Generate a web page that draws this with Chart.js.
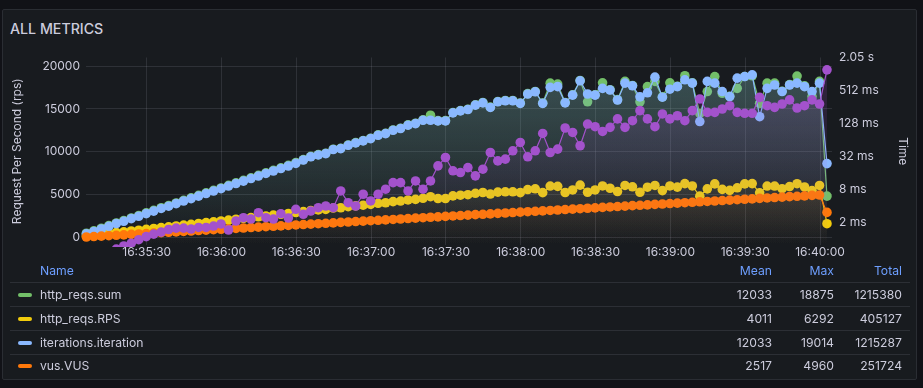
<!DOCTYPE html>
<html><head><meta charset="utf-8">
<script src="https://cdn.jsdelivr.net/npm/chart.js@4.4.1/dist/chart.umd.min.js"></script>
<style>
html,body{margin:0;padding:0;background:#111217;width:923px;height:388px;overflow:hidden;font-family:Inter,"Noto Sans",sans-serif;}
#panel{position:absolute;left:2px;top:9px;width:913px;height:369px;background:#181b1f;border:1px solid #2a2d33;border-radius:2px;}
#title{position:absolute;left:10px;top:20.5px;font-size:14.2px;line-height:15px;font-weight:500;color:#ccccdc;white-space:nowrap;}
#chartWrap{position:absolute;left:0;top:0;width:923px;height:268px;}
.lg{position:absolute;font-size:12.2px;line-height:16px;color:#ccccdc;white-space:nowrap;}
.num{width:120px;text-align:right;}
.hd{color:#6e9fff;}
.sep{position:absolute;left:10px;width:900px;height:1px;background:#2c2f35;}
.sw{position:absolute;left:18px;width:14px;height:4px;border-radius:2px;}
</style></head>
<body>
<div id="panel"></div>
<div id="title">ALL METRICS</div>
<div id="chartWrap"><canvas id="c" width="923" height="268"></canvas></div>
<div id="legend"></div>
<script>
// ---------- data ----------
const firstSampleSec = 5.8;      // seconds after 16:35:00
const sampleStepSec = 3;
const xTickSecs = [30,60,90,120,150,180,210,240,270,300];
const xTickLabels = ['16:35:30','16:36:00','16:36:30','16:37:00','16:37:30','16:38:00','16:38:30','16:39:00','16:39:30','16:40:00'];
const leftTicks = [0,5000,10000,15000,20000];
const rightTicks = [2,8,32,128,512,2048];
const rightTickLabels = ['2 ms','8 ms','32 ms','128 ms','512 ms','2.05 s'];

const httpReqsSum = [500,780,1080,1390,1700,1970,2280,2560,2870,3160,
 3470,3730,4030,4340,4620,4910,5210,5500,5780,6080,
 6380,6660,6960,7250,7550,7840,8130,8420,8730,9080,
 9460,9670,9830,10300,10410,10800,11070,11310,11580,11970,
 12160,12550,12750,13140,13330,13720,14270,13640,13640,14580,
 14810,14970,15480,15750,15210,15870,15990,15990,15690,16780,
 17040,15690,18010,17900,15750,16650,18320,15830,16650,18050,
 17240,16080,18210,17740,15830,17600,18210,16410,18050,17640,
 18870,18050,14470,17030,18780,16830,16480,17400,18780,18870,
 15650,18010,18010,17070,17830,18830,17700,16440,18210,4830];
const httpReqsRPS = [167,260,360,463,567,657,760,853,957,1053,
 1157,1243,1343,1447,1540,1637,1737,1833,1927,2027,
 2127,2220,2320,2417,2517,2613,2710,2807,2910,3027,
 3153,3223,3277,3433,3470,3600,3690,3770,3860,3990,
 4053,4183,4250,4380,4443,4573,4757,4547,4547,4860,
 4937,4990,5160,5250,5070,5290,5330,5330,5230,5593,
 5680,5230,6003,5967,5250,5550,6107,5277,5550,6017,
 5747,5360,6070,5913,5277,5867,6070,5470,6017,5880,
 6290,6017,4823,5677,6260,5610,5493,5800,6260,6290,
 5217,6003,6003,5690,5943,6277,5900,5480,6070,1610];
const iterations = [420,700,1000,1310,1620,1890,2200,2480,2790,3080,
 3390,3650,3950,4260,4540,4830,5130,5420,5700,6000,
 6300,6580,6880,7170,7470,7760,8050,8340,8650,9040,
 9420,9630,9790,10260,10370,10760,11030,11270,11540,11930,
 12120,12510,12710,13100,13290,13680,13680,13600,13600,14540,
 14770,14930,15440,15710,15170,15830,15950,15950,15650,16740,
 17000,15650,17520,17600,15710,16610,18280,16740,16610,17400,
 17200,16040,18010,17700,16410,16880,18710,16370,17300,17600,
 18400,18010,13530,18210,18010,17030,16440,18590,18780,18980,
 14090,17400,17790,17030,17790,18010,17600,17030,18010,8620];
const vus = [60,108,162,210,257,311,360,412,458,510,
 562,608,660,713,758,810,862,908,960,1012,
 1058,1110,1163,1208,1260,1311,1358,1410,1462,1508,
 1560,1612,1658,1710,1763,1808,1860,1911,1958,2010,
 2062,2108,2160,2213,2258,2310,2361,2408,2460,2512,
 2558,2610,2663,2708,2760,2811,2858,2910,2962,3008,
 3060,3112,3158,3210,3263,3308,3360,3411,3458,3510,
 3562,3608,3660,3713,3758,3810,3861,3908,3960,4012,
 4058,4110,4163,4208,4260,4311,4358,4410,4462,4508,
 4560,4612,4658,4710,4763,4808,4860,4911,4960,2930];
// response time (ms), right log axis
const respTime = [0.59,0.59,0.59,0.61,0.64,0.73,0.82,0.95,1.08,1.20,
 1.31,1.46,1.55,1.55,1.49,1.59,1.59,1.69,1.84,1.43,
 2.09,2.40,2.27,2.96,2.40,2.27,2.84,2.37,3.42,2.77,
 3.18,3.66,3.93,3.66,7.41,4.52,3.93,6.45,4.86,6.45,
 7.97,10.5,10.5,7.41,11.3,7.97,11.3,21.3,30.3,17.3,
 16.1,19.8,14.0,18.5,37.4,26.3,28.3,40.2,57.1,31.2,
 40.2,83.5,37.4,43.2,105,87.1,49.7,124,111,90.9,
 108,154,108,143,218,154,111,190,154,176,
 143,218,357,203,203,234,269,203,195,195,
 382,269,251,289,343,244,269,343,289,1218];

const legendNames = ['http_reqs.sum','http_reqs.RPS','iterations.iteration','vus.VUS'];
const legendMean = ['12033','4011','12033','2517'];
const legendMax = ['18875','6292','19014','4960'];
const legendTotal = ['1215380','405127','1215287','251724'];

// ---------- style ----------
const COLORS = {sum:'#73BF69', rps:'#F2CC0C', iter:'#8AB8FF', vus:'#FF780A', time:'#A352CC'};
const legendColors = [COLORS.sum, COLORS.rps, COLORS.iter, COLORS.vus];
const TEXT = '#ccccdc';
const GRID = 'rgba(204,204,220,0.13)';
const FONT = 'Inter, "Noto Sans", sans-serif';

const times = iterations.map((_, i) => firstSampleSec + i * sampleStepSec);

function hexA(hex, a) {
  const n = parseInt(hex.slice(1), 16);
  return `rgba(${(n>>16)&255},${(n>>8)&255},${n&255},${a})`;
}
function fillGrad(hex, alpha) {
  return (c) => {
    const a = c.chart.chartArea;
    if (!a) return 'rgba(0,0,0,0)';
    const g = c.chart.ctx.createLinearGradient(0, a.top, 0, a.bottom);
    g.addColorStop(0, hexA(hex, alpha));
    g.addColorStop(1, hexA(hex, 0));
    return g;
  };
}
function ds(label, values, color, axis, order) {
  return {
    label, yAxisID: axis, order,
    data: values.map((v, i) => ({x: times[i], y: v})),
    borderColor: color, borderWidth: 1.2, tension: 0,
    pointRadius: 4.8, pointHoverRadius: 4.8, pointBorderWidth: 0,
    pointBackgroundColor: color,
    fill: 'start', backgroundColor: fillGrad(color, 0.2),
    clip: {left: 8, top: 8, right: 8, bottom: 2}
  };
}

new Chart(document.getElementById('c'), {
  type: 'line',
  data: {datasets: [
    ds('http_reqs.sum', httpReqsSum, COLORS.sum, 'y', 4),
    ds('http_reqs.RPS', httpReqsRPS, COLORS.rps, 'y', 3),
    ds('iterations.iteration', iterations, COLORS.iter, 'y', 2),
    ds('vus.VUS', vus, COLORS.vus, 'y', 1),
    ds('http_req_duration', respTime, COLORS.time, 'y1', 0)
  ]},
  options: {
    responsive: false, animation: false, devicePixelRatio: 1,
    layout: {padding: {top: 57.5, left: 0, right: 0, bottom: 0}},
    plugins: {legend: {display: false}, tooltip: {enabled: false}},
    scales: {
      x: {
        type: 'linear', min: 5.65, max: 304.81,
        afterBuildTicks: s => { s.ticks = xTickSecs.map(v => ({value: v})); },
        afterFit: s => { s.height = 23; },
        ticks: {color: TEXT, font: {family: FONT, size: 12}, padding: 0, maxRotation: 0,
                autoSkip: false, callback: (v, i) => xTickLabels[i]},
        grid: {color: GRID, drawTicks: false, lineWidth: 1},
        border: {display: false}
      },
      y: {
        position: 'left', type: 'linear', min: -875, max: 21000,
        afterBuildTicks: s => { s.ticks = leftTicks.map(v => ({value: v})); },
        afterFit: s => { s.width = 86; },
        ticks: {color: TEXT, font: {family: FONT, size: 12}, padding: 6, callback: v => String(v)},
        grid: {color: GRID, drawTicks: false, lineWidth: 1},
        border: {display: false},
        title: {display: true, text: 'Request Per Second (rps)', color: TEXT,
                font: {family: FONT, size: 12}, padding: {top: 9.8, bottom: 0}}
      },
      y1: {
        position: 'right', type: 'logarithmic', min: 0.76, max: 2048,
        afterBuildTicks: s => { s.ticks = rightTicks.map(v => ({value: v})); },
        afterFit: s => { s.width = 91; },
        ticks: {color: TEXT, font: {family: FONT, size: 12}, padding: 7,
                callback: (v, i) => rightTickLabels[i]},
        grid: {display: false, drawTicks: false},
        border: {display: false},
        title: {display: true, text: 'Time', color: TEXT,
                font: {family: FONT, size: 12}, padding: {top: 12.8, bottom: 0}}
      }
    }
  }
});

// ---------- legend table ----------
const lg = document.getElementById('legend');
function el(cls, text, styles) {
  const d = document.createElement('div');
  d.className = cls; if (text != null) d.textContent = text;
  Object.assign(d.style, styles); lg.appendChild(d); return d;
}
const headerY = 270.7, rowY0 = 295, rowStep = 23.8;
const meanRight = 772, maxRight = 834, totalRight = 902;
el('lg hd', 'Name', {left: '40px', top: (headerY - 8) + 'px'});
el('lg hd num', 'Mean', {left: (meanRight - 120) + 'px', top: (headerY - 8) + 'px'});
el('lg hd num', 'Max', {left: (maxRight - 120) + 'px', top: (headerY - 8) + 'px'});
el('lg hd num', 'Total', {left: (totalRight - 120) + 'px', top: (headerY - 8) + 'px'});
legendNames.forEach((name, i) => {
  const cy = rowY0 + i * rowStep;
  el('sep', null, {top: Math.round(cy - 12.7) + 'px'});
  el('sw', null, {top: (cy - 2) + 'px', background: legendColors[i]});
  el('lg', name, {left: '40px', top: (cy - 8) + 'px'});
  el('lg num', legendMean[i], {left: (meanRight - 120) + 'px', top: (cy - 8) + 'px'});
  el('lg num', legendMax[i], {left: (maxRight - 120) + 'px', top: (cy - 8) + 'px'});
  el('lg num', legendTotal[i], {left: (totalRight - 120) + 'px', top: (cy - 8) + 'px'});
});
</script>
</body></html>
